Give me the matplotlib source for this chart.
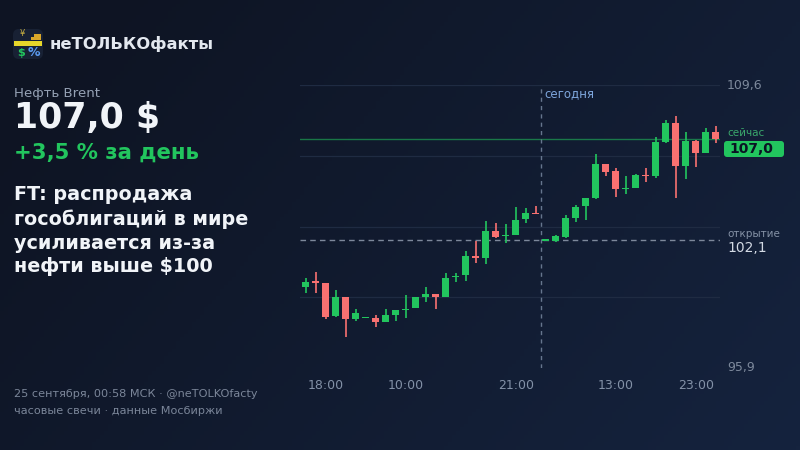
import matplotlib
matplotlib.use('Agg')
import matplotlib.pyplot as plt
import numpy as np
from matplotlib.patches import FancyBboxPatch, Rectangle

# hourly Brent candles
opens  = [99.82, 100.11, 100.02, 98.42, 99.34, 98.29, 98.33, 98.34, 98.11, 98.47,
          98.71, 98.79, 99.35, 99.50, 99.35, 100.29, 100.40, 101.32, 101.21, 102.53,
          102.29, 102.32, 103.10, 103.40, 102.07, 102.07, 102.26, 103.18, 103.74, 104.11,
          105.78, 105.44, 104.55, 104.63, 105.24, 105.20, 106.86, 107.74, 105.70, 106.89,
          106.29, 107.31]
closes = [100.08, 100.02, 98.39, 99.34, 98.29, 98.56, 98.35, 98.13, 98.47, 98.71,
          98.77, 99.32, 99.50, 99.35, 100.26, 100.37, 101.32, 101.21, 102.53, 102.26,
          102.34, 103.07, 103.39, 103.36, 102.10, 102.29, 103.18, 103.71, 104.11, 105.78,
          105.41, 104.57, 104.63, 105.24, 105.20, 106.86, 107.74, 105.70, 106.89, 106.29,
          107.31, 107.00]
highs  = [100.24, 100.53, 100.02, 99.68, 99.34, 98.77, 98.35, 98.47, 98.77, 98.71,
          99.44, 99.32, 99.82, 99.50, 100.48, 100.48, 101.58, 102.05, 103.02, 102.94,
          102.87, 103.71, 103.66, 103.76, 102.10, 102.34, 103.31, 103.79, 104.11, 106.26,
          105.78, 105.60, 105.21, 105.29, 105.57, 107.07, 107.91, 108.10, 107.31, 106.94,
          107.50, 107.62]
lows   = [99.52, 99.52, 98.26, 98.39, 97.39, 98.19, 98.31, 97.90, 98.11, 98.19,
          98.34, 98.79, 99.11, 98.77, 99.35, 100.08, 100.11, 101.00, 100.94, 102.18,
          101.94, 102.32, 102.94, 103.36, 102.03, 101.98, 102.18, 102.99, 103.07, 104.07,
          105.21, 104.20, 104.32, 104.60, 104.89, 105.08, 106.78, 104.11, 105.07, 105.65,
          106.29, 106.81]

tick_pos = [2, 10, 21, 31, 39]
tick_labels = ['18:00', '10:00', '21:00', '13:00', '23:00']
today_x = 23.5
y_min, y_max = 95.9, 109.6
price_now = 107.0
price_open = 102.1

GREEN = '#22c55e'
RED = '#f87171'

W, H = 800, 450
fig = plt.figure(figsize=(8, 4.5), dpi=100)

def fx(x):
    return x / W

def fy(y):
    return 1 - y / H

# background gradient
bg = fig.add_axes([0, 0, 1, 1])
gx = np.linspace(0, 1, 200)
gy = np.linspace(0, 1, 120)
GX, GY = np.meshgrid(gx, gy)
c1 = np.array([14, 20, 35]) / 255
c2 = np.array([21, 35, 62]) / 255
t = np.clip(0.75 * GX + 0.35 * GY - 0.1, 0, 1)[..., None]
img = c1 * (1 - t) + c2 * t
bg.imshow(img, aspect='auto', extent=[0, 1, 0, 1], origin='upper')
bg.set_axis_off()

# chart
ax = fig.add_axes([fx(300), fy(368), fx(720) - fx(300), fy(85) - fy(368)])
ax.set_facecolor('none')
x = np.arange(len(opens))
ax.set_xlim(-0.57, len(opens) - 0.57)
ax.set_ylim(y_min, y_max)

for g in np.linspace(y_min, y_max, 5)[1:]:
    ax.axhline(g, color='#1f2b42', lw=0.9, zorder=0)

ax.axhline(price_now, color=GREEN, lw=1.0, alpha=0.55, zorder=1)
ax.axhline(price_open, color='#7d889b', lw=1.0, ls=(0, (4, 3)), zorder=1)
ax.axvline(today_x, color='#66768e', lw=1.0, ls=(0, (3, 3)), zorder=1)

for i in x:
    o, c, h, l = opens[i], closes[i], highs[i], lows[i]
    col = GREEN if c >= o else RED
    ax.vlines(i, l, h, color=col, lw=1.2, zorder=2)
    bot = min(o, c)
    hgt = max(abs(c - o), 0.06)
    ax.add_patch(Rectangle((i - 0.33, bot), 0.66, hgt, facecolor=col,
                           edgecolor='none', zorder=3))

ax.set_xticks(tick_pos)
ax.set_xticklabels(tick_labels, color='#8391a7', fontsize=9)
ax.tick_params(axis='x', length=0, pad=8)
ax.set_yticks([])
for s in ax.spines.values():
    s.set_visible(False)

ax.annotate('сегодня', (today_x, y_max), xytext=(3, -6.5), textcoords='offset points',
            color='#7ea6dc', fontsize=8.5, va='center', ha='left')

# right side labels
tr = ax.get_yaxis_transform()
ax.text(1.017, y_max, '109,6', transform=tr, color='#7d899c', fontsize=9, va='center')
ax.text(1.017, y_min, '95,9', transform=tr, color='#7d899c', fontsize=9, va='center')
ax.text(1.017, price_open + 0.3, 'открытие', transform=tr, color='#8592a6', fontsize=7.5,
        va='center')
ax.text(1.017, price_open - 0.4, '102,1', transform=tr, color='#d3dae4', fontsize=10,
        va='center')
ax.text(1.017, price_now + 0.27, 'сейчас', transform=tr, color='#3aa86c', fontsize=7.5,
        va='center')

box = FancyBboxPatch((7.24, fy(157) * 4.5), 0.60, 0.16,
                     boxstyle='round,pad=0,rounding_size=0.03',
                     transform=fig.dpi_scale_trans, facecolor=GREEN, edgecolor='none')
fig.patches.append(box)
fig.text(fx(729), fy(149), '107,0', color='#0b1424', fontsize=10, fontweight='bold',
         va='center', ha='left')

# logo
logo = FancyBboxPatch((0.13, fy(59) * 4.5), 0.30, 0.30,
                      boxstyle='round,pad=0,rounding_size=0.06',
                      transform=fig.dpi_scale_trans, facecolor='#182134', edgecolor='none')
fig.patches.append(logo)
fig.patches.append(Rectangle((fx(34), fy(37)), fx(7), 3 / H, transform=fig.transFigure,
                             facecolor='#d9a72a', edgecolor='none'))
fig.patches.append(Rectangle((fx(31), fy(40)), fx(10), 3 / H, transform=fig.transFigure,
                             facecolor='#d9a72a', edgecolor='none'))
fig.patches.append(Rectangle((fx(14), fy(46)), fx(28), 5 / H, transform=fig.transFigure,
                             facecolor='#e6d62a', edgecolor='none'))
fig.text(fx(22), fy(34), '¥', color='#c8b040', fontsize=6, ha='center', va='center')
fig.text(fx(21), fy(53), '$', color=GREEN, fontsize=8, ha='center', va='center',
         fontweight='bold')
fig.text(fx(34), fy(52), '%', color='#5b9bf0', fontsize=9, ha='center', va='center',
         fontweight='bold')

fig.text(fx(50), fy(44), 'неТОЛЬКОфакты', color='#e3e8ef', fontsize=11.8,
         fontweight='bold', va='center', ha='left')

# left text block
fig.text(fx(14), fy(93), 'Нефть Brent', color='#95a1b4', fontsize=9.6, va='center')
fig.text(fx(14), fy(118), '107,0 $', color='#f1f4f8', fontsize=25, fontweight='bold',
         va='center')
fig.text(fx(14), fy(153), '+3,5 % за день', color=GREEN, fontsize=15.3,
         fontweight='bold', va='center')
head = ['FT: распродажа', 'гособлигаций в мире', 'усиливается из-за', 'нефти выше $100']
for k, line in enumerate(head):
    fig.text(fx(14), fy(195 + 24 * k), line, color='#f1f4f8', fontsize=13.8,
             fontweight='bold', va='center')

fig.text(fx(14), fy(394), '25 сентября, 00:58 МСК · @neTOLKOfacty', color='#7b8699',
         fontsize=8.1, va='center')
fig.text(fx(14), fy(411), 'часовые свечи · данные Мосбиржи', color='#7b8699',
         fontsize=8.1, va='center')

fig.savefig('out.png', dpi=100)
